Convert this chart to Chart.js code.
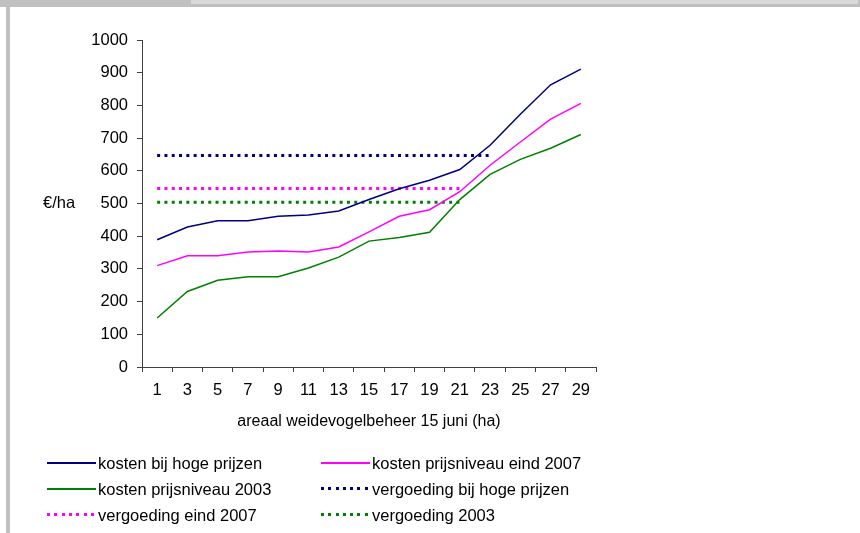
<!DOCTYPE html>
<html>
<head>
<meta charset="utf-8">
<script src="https://cdn.jsdelivr.net/npm/chart.js@4"></script>
<style>
    body { margin: 0; background: #fff; font-family: 'Liberation Sans', Arial, sans-serif; }
    #wrap { position: relative; width: 860px; height: 533px; overflow: hidden; background: #fff; }
    #chart { position: absolute; left: 0; top: 0; }
    .bar { position: absolute; }
    .leg { position: absolute; font-size: 16.5px; color: #000; white-space: nowrap; line-height: 20px; }
    .leg .ln { position: absolute; left: 0; top: 9px; width: 49px; }
    .leg span { position: absolute; left: 51px; top: 0; }
</style>
</head>
<body>
<div id="wrap">
    <canvas id="chart" width="860" height="533"></canvas>
    <div class="bar" style="left:0;top:0;width:860px;height:7px;background:#c0c0c0"></div>
    <div class="bar" style="left:191px;top:0;width:667px;height:4px;background:#d9d9d9"></div>
    <div class="bar" style="left:6px;top:7px;width:4px;height:526px;background:#c0c0c0"></div>
    <div id="legend"></div>
</div>
<script>
// x-categorieen (ha)
const labels = ['1', '3', '5', '7', '9', '11', '13', '15', '17', '19', '21', '23', '25', '27', '29'];

// kosten (euro/ha)
const kostenHoog = [389, 428, 447, 447, 461, 465, 477, 512, 545, 571, 604, 678, 773, 863, 911];
const kosten2007 = [310, 340, 340, 352, 355, 352, 367, 413, 461, 481, 536, 617, 688, 758, 806];
const kosten2003 = [150, 231, 265, 276, 276, 303, 336, 385, 396, 412, 512, 589, 635, 669, 711];

// vergoedingen (euro/ha)
const vergoedingHoog = [647, 647, 647, 647, 647, 647, 647, 647, 647, 647, 647, 647, null, null, null];
const vergoeding2007 = [546, 546, 546, 546, 546, 546, 546, 546, 546, 546, 546, null, null, null, null];
const vergoeding2003 = [504, 504, 504, 504, 504, 504, 504, 504, 504, 504, 504, null, null, null, null];

const yTicks = [0, 100, 200, 300, 400, 500, 600, 700, 800, 900, 1000];

const NAVY = '#000080';
const PINK = '#ff00ff';
const GREEN = '#008000';

Chart.defaults.font.family = "'Liberation Sans', Arial, sans-serif";
Chart.defaults.font.size = 16;
Chart.defaults.color = '#000';

function solid(label, data, color) {
    return { label: label, data: data, borderColor: color, backgroundColor: color, borderWidth: 1.5, pointRadius: 0, tension: 0, fill: false };
}
function dotted(label, data, color) {
    return { label: label, data: data, borderColor: color, backgroundColor: color, borderWidth: 3, borderDash: [3, 4.3], borderCapStyle: 'butt', pointRadius: 0, fill: false, spanGaps: false };
}

const datasets = [
    solid('kosten bij hoge prijzen', kostenHoog, NAVY),
    solid('kosten prijsniveau eind 2007', kosten2007, PINK),
    solid('kosten prijsniveau 2003', kosten2003, GREEN),
    dotted('vergoeding bij hoge prijzen', vergoedingHoog, NAVY),
    dotted('vergoeding eind 2007', vergoeding2007, PINK),
    dotted('vergoeding 2003', vergoeding2003, GREEN),
];

// y-as titel horizontaal naast de 500
const yTitle = {
    id: 'yTitle',
    afterDraw(chart) {
        const ctx = chart.ctx;
        const y = chart.scales.y.getPixelForValue(500);
        ctx.save();
        ctx.font = "16.5px 'Liberation Sans', Arial, sans-serif";
        ctx.fillStyle = '#000';
        ctx.textAlign = 'left';
        ctx.textBaseline = 'middle';
        ctx.fillText('€/ha', 43, y);
        ctx.restore();
    }
};

const ctx = document.getElementById('chart').getContext('2d');
const chart = new Chart(ctx, {
    type: 'line',
    data: { labels: labels, datasets: datasets },
    options: {
        responsive: false,
        animation: false,
        layout: { padding: { left: 0, right: 264, top: 40, bottom: 96 } },
        plugins: { legend: { display: false }, tooltip: { enabled: false } },
        scales: {
            x: {
                offset: true,
                grid: { offset: true, drawOnChartArea: false, tickLength: 5, color: '#404040' },
                border: { color: '#404040', width: 1 },
                ticks: { autoSkip: false, maxRotation: 0, padding: 9, font: { size: 16.5 } },
                title: { display: true, text: 'areaal weidevogelbeheer 15 juni (ha)', padding: { top: 0, bottom: 6 } },
                afterFit(scale) { scale.height = 70; }
            },
            y: {
                min: 0,
                max: 1000,
                afterBuildTicks(scale) { scale.ticks = yTicks.map(v => ({ value: v })); },
                grid: { drawOnChartArea: false, tickLength: 5, color: '#404040' },
                border: { color: '#404040', width: 1 },
                ticks: { padding: 9, font: { size: 16.5 }, callback: v => String(v) },
                afterFit(scale) { scale.width = 142; }
            }
        }
    },
    plugins: [yTitle]
});

// legenda in twee kolommen
const legendPos = [[47, 453], [321, 453], [47, 479], [321, 479], [47, 505], [321, 505]];
const legend = document.getElementById('legend');
datasets.forEach((ds, i) => {
    const item = document.createElement('div');
    item.className = 'leg';
    item.style.left = legendPos[i][0] + 'px';
    item.style.top = legendPos[i][1] + 'px';
    const ln = document.createElement('div');
    ln.className = 'ln';
    if (ds.borderDash) {
        ln.style.height = '3px';
        ln.style.top = '8px';
        ln.style.background = 'repeating-linear-gradient(to right, ' + ds.borderColor + ' 0 3px, transparent 3px 7.3px)';
    } else {
        ln.style.height = '2px';
        ln.style.background = ds.borderColor;
    }
    const txt = document.createElement('span');
    txt.textContent = ds.label;
    item.appendChild(ln);
    item.appendChild(txt);
    legend.appendChild(item);
});
</script>
</body>
</html>
